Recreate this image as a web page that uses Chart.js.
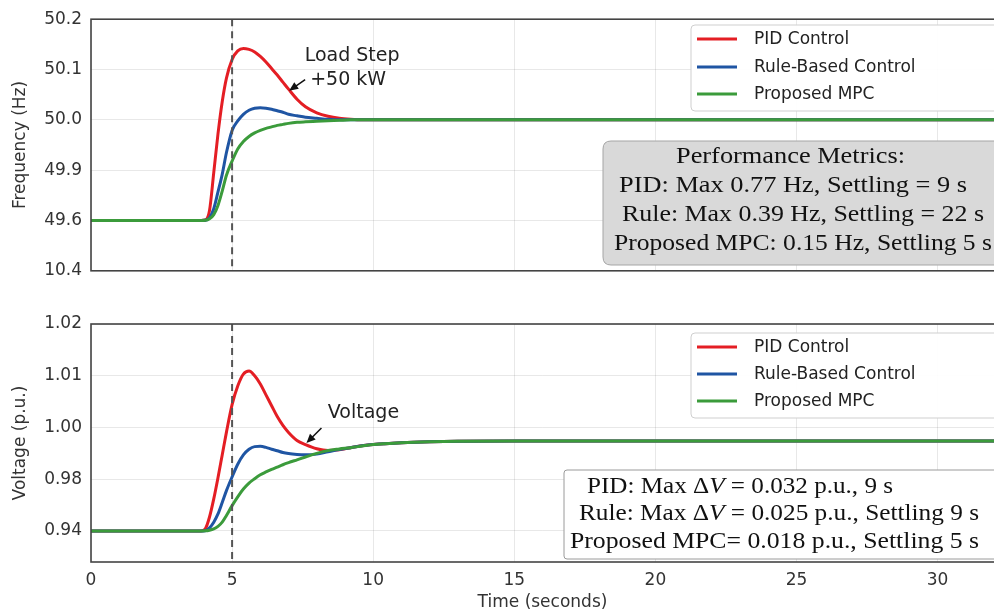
<!DOCTYPE html>
<html><head><meta charset="utf-8">
<script src="https://cdn.jsdelivr.net/npm/chart.js@4.4.0/dist/chart.umd.min.js"></script>
<style>
html,body{margin:0;padding:0;background:#fff;}
#wrap{position:relative;width:994px;height:615px;overflow:hidden;background:#fff;}
#c1{position:absolute;left:0;top:0;}
#c2{position:absolute;left:0;top:300px;}
</style></head><body>
<div id="wrap">
<canvas id="c1" width="994" height="290"></canvas>
<canvas id="c2" width="994" height="315"></canvas>
</div>
<script>
// ---------- data ----------
const TIME = [0, 3.9, 4.05, 4.2, 4.35, 4.5, 4.65, 4.8, 5.0, 5.2, 5.4, 5.6, 5.8, 6.0, 6.2, 6.4, 6.6, 6.8, 7.0, 7.3, 7.6, 8.0, 8.4, 8.8, 9.2, 9.6, 10, 11, 12, 13, 15, 20, 25, 32];
const SERIES = ['PID Control', 'Rule-Based Control', 'Proposed MPC'];

const FREQ_PID  = [49.6, 49.6, 49.603, 49.66, 49.885, 49.972, 50.036, 50.083, 50.12, 50.137, 50.142, 50.140, 50.135, 50.126, 50.115, 50.102, 50.089, 50.075, 50.061, 50.041, 50.026, 50.014, 50.007, 50.003, 50.001, 50.0, 50.0, 50.0, 50.0, 50.0, 50.0, 50.0, 50.0, 50.0];
const FREQ_RULE = [49.6, 49.6, 49.601, 49.615, 49.67, 49.77, 49.875, 49.935, 49.979, 49.998, 50.011, 50.019, 50.023, 50.024, 50.023, 50.021, 50.018, 50.015, 50.011, 50.008, 50.005, 50.003, 50.001, 50.0, 50.0, 50.0, 50.0, 50.0, 50.0, 50.0, 50.0, 50.0, 50.0, 50.0];
const FREQ_MPC  = [49.6, 49.6, 49.601, 49.61, 49.635, 49.69, 49.775, 49.87, 49.918, 49.942, 49.957, 49.967, 49.974, 49.979, 49.983, 49.986, 49.989, 49.991, 49.993, 49.995, 49.996, 49.997, 49.998, 49.999, 50.0, 50.0, 50.0, 50.0, 50.0, 50.0, 50.0, 50.0, 50.0, 50.0];

const VOLT_PID  = [0.94, 0.94, 0.9416, 0.9508, 0.9648, 0.9806, 0.9894, 0.9982, 1.0044, 1.0080, 1.0103, 1.0109, 1.0100, 1.0084, 1.0063, 1.0042, 1.0021, 1.0004, 0.9981, 0.995, 0.9934, 0.9918, 0.9911, 0.9914, 0.9922, 0.9929, 0.9934, 0.9941, 0.9945, 0.9947, 0.9948, 0.9948, 0.9948, 0.9948];
const VOLT_RULE = [0.94, 0.94, 0.9402, 0.9424, 0.9468, 0.9532, 0.962, 0.9712, 0.9809, 0.9858, 0.9894, 0.9916, 0.9926, 0.9927, 0.9923, 0.9916, 0.991, 0.9903, 0.9899, 0.9896, 0.9895, 0.9897, 0.9906, 0.9915, 0.9922, 0.9929, 0.9934, 0.9941, 0.9945, 0.9947, 0.9948, 0.9948, 0.9948, 0.9948];
const VOLT_MPC  = [0.94, 0.94, 0.9401, 0.9406, 0.9416, 0.9436, 0.9468, 0.952, 0.9596, 0.9664, 0.9724, 0.977, 0.9802, 0.9817, 0.9828, 0.9838, 0.9847, 0.9856, 0.9864, 0.9875, 0.9886, 0.99, 0.9911, 0.9917, 0.9922, 0.9928, 0.9934, 0.9941, 0.9945, 0.9947, 0.9948, 0.9948, 0.9948, 0.9948];

const FREQ_TICKS = [10.4, 49.6, 49.9, 50.0, 50.1, 50.2];
const FREQ_TICK_LABELS = ['10.4', '49.6', '49.9', '50.0', '50.1', '50.2'];
const VOLT_TICKS = [0.94, 0.98, 1.00, 1.01, 1.02];
const VOLT_TICK_LABELS = ['0.94', '0.98', '1.00', '1.01', '1.02'];
const TIME_TICKS = [0, 5, 10, 15, 20, 25, 30];
const LOAD_STEP_TIME = 5;

const COLORS = ['#e41e24', '#1f55a3', '#3b9b3b'];
const SANS = '"DejaVu Sans", sans-serif';
const SERIF = '"Liberation Serif", "Times New Roman", serif';

// piecewise mapping of a value onto the evenly spaced tick positions
function toIdx(v, ticks) {
  let i = 0;
  while (i < ticks.length - 2 && v > ticks[i + 1]) i++;
  return i + (v - ticks[i]) / (ticks[i + 1] - ticks[i]);
}
function mkData(vals, ticks) { return TIME.map((t, i) => ({x: t, y: toIdx(vals[i], ticks)})); }

function datasets(arrs, ticks) {
  return arrs.map((a, k) => ({
    label: SERIES[k], data: mkData(a, ticks), borderColor: COLORS[k], backgroundColor: COLORS[k],
    borderWidth: 3, pointRadius: 0, cubicInterpolationMode: 'monotone', fill: false, order: 2 - k
  }));
}

function rr(ctx, x, y, w, h, r) {
  ctx.beginPath();
  ctx.moveTo(x + r, y); ctx.lineTo(x + w - r, y); ctx.quadraticCurveTo(x + w, y, x + w, y + r);
  ctx.lineTo(x + w, y + h - r); ctx.quadraticCurveTo(x + w, y + h, x + w - r, y + h);
  ctx.lineTo(x + r, y + h); ctx.quadraticCurveTo(x, y + h, x, y + h - r);
  ctx.lineTo(x, y + r); ctx.quadraticCurveTo(x, y, x + r, y); ctx.closePath();
}

function drawRich(ctx, parts, x, y, width, size) {
  let total = 0;
  parts.forEach(p => { ctx.font = (p[1] ? 'italic ' : '') + size + 'px ' + SERIF; total += ctx.measureText(p[0]).width; });
  const f = width / total;
  ctx.save(); ctx.translate(x, y); ctx.scale(f, 1);
  ctx.fillStyle = '#111'; ctx.textBaseline = 'middle'; ctx.textAlign = 'left';
  let cx = 0;
  parts.forEach(p => { ctx.font = (p[1] ? 'italic ' : '') + size + 'px ' + SERIF; ctx.fillText(p[0], cx, 0); cx += ctx.measureText(p[0]).width; });
  ctx.restore();
}

function drawLegend(chart, x, y, w, h, rows) {
  const ctx = chart.ctx;
  ctx.save();
  rr(ctx, x, y, w, h, 4);
  ctx.fillStyle = 'rgba(255,255,255,0.92)'; ctx.fill();
  ctx.strokeStyle = '#cfcfcf'; ctx.lineWidth = 1; ctx.stroke();
  chart.data.datasets.forEach((ds, k) => {
    ctx.strokeStyle = ds.borderColor; ctx.lineWidth = 3;
    ctx.beginPath(); ctx.moveTo(x + 6, rows[k]); ctx.lineTo(x + 46, rows[k]); ctx.stroke();
    ctx.fillStyle = '#222'; ctx.font = '17px ' + SANS; ctx.textBaseline = 'middle';
    ctx.fillText(ds.label, x + 63, rows[k] + 1);
  });
  ctx.restore();
}

function arrow(ctx, x1, y1, x2, y2) {
  ctx.save();
  ctx.strokeStyle = '#111'; ctx.fillStyle = '#111'; ctx.lineWidth = 1.5;
  const a = Math.atan2(y2 - y1, x2 - x1);
  ctx.beginPath(); ctx.moveTo(x1, y1); ctx.lineTo(x2 - 6 * Math.cos(a), y2 - 6 * Math.sin(a)); ctx.stroke();
  ctx.beginPath(); ctx.moveTo(x2, y2);
  ctx.lineTo(x2 - 9 * Math.cos(a) + 4 * Math.sin(a), y2 - 9 * Math.sin(a) - 4 * Math.cos(a));
  ctx.lineTo(x2 - 9 * Math.cos(a) - 4 * Math.sin(a), y2 - 9 * Math.sin(a) + 4 * Math.cos(a));
  ctx.closePath(); ctx.fill();
  ctx.restore();
}

const framePlugin = {
  id: 'frame',
  afterDatasetsDraw(chart) {
    const {ctx, chartArea: a, scales: {x}} = chart;
    ctx.save();
    // load step marker
    const px = x.getPixelForValue(LOAD_STEP_TIME);
    ctx.strokeStyle = '#555'; ctx.lineWidth = 2; ctx.setLineDash([7, 5]);
    ctx.beginPath(); ctx.moveTo(px, a.top); ctx.lineTo(px, a.bottom); ctx.stroke();
    ctx.setLineDash([]);
    ctx.strokeStyle = '#444'; ctx.lineWidth = 1.6;
    ctx.strokeRect(a.left, a.top, a.right - a.left + 2, a.bottom - a.top);
    ctx.restore();
  }
};

function axisCommon() {
  return {
    x: {
      type: 'linear', min: 0, max: 32,
      afterBuildTicks: s => { s.ticks = TIME_TICKS.map(v => ({value: v})); },
      grid: {color: 'rgba(0,0,0,0.09)', lineWidth: 1, drawTicks: false},
      border: {display: false},
    }
  };
}

// ---------- top chart: frequency ----------
const topOpts = axisCommon();
topOpts.x.ticks = {display: false};
topOpts.x.afterFit = s => { s.height = 0; };
topOpts.y = {
  type: 'linear', min: 0, max: 5,
  afterBuildTicks: s => { s.ticks = FREQ_TICKS.map((v, i) => ({value: i})); },
  ticks: {callback: v => FREQ_TICK_LABELS[Math.round(v)], font: {family: SANS, size: 17}, color: '#333', padding: 9},
  grid: {color: 'rgba(0,0,0,0.09)', lineWidth: 1, drawTicks: false},
  border: {display: false},
  title: {display: true, text: 'Frequency (Hz)', font: {family: SANS, size: 17}, color: '#333', padding: {top: 10, bottom: 0}},
  afterFit: s => { s.width = 91; }
};

new Chart(document.getElementById('c1'), {
  type: 'line',
  data: {datasets: datasets([FREQ_PID, FREQ_RULE, FREQ_MPC], FREQ_TICKS)},
  options: {
    responsive: false, devicePixelRatio: 1, animation: false,
    layout: {padding: {top: 16, bottom: 15, left: 0, right: 0}},
    plugins: {legend: {display: false}, tooltip: {enabled: false}},
    scales: topOpts
  },
  plugins: [framePlugin, {
    id: 'topDeco',
    afterDraw(chart) {
      const ctx = chart.ctx, {x, y} = chart.scales;
      drawLegend(chart, 691, 25, 310, 86, [39, 67, 94]);
      // metrics box
      ctx.save();
      rr(ctx, 603, 141, 400, 124, 8);
      ctx.fillStyle = '#d9d9d9'; ctx.fill(); ctx.strokeStyle = '#a5a5a5'; ctx.lineWidth = 1; ctx.stroke();
      ctx.restore();
      drawRich(ctx, [['Performance Metrics:', 0]], 676, 157, 229, 24);
      drawRich(ctx, [['PID: Max 0.77 Hz, Settling = 9 s', 0]], 619, 186, 348, 24);
      drawRich(ctx, [['Rule: Max 0.39 Hz, Settling = 22 s', 0]], 622, 215, 362, 24);
      drawRich(ctx, [['Proposed MPC: 0.15 Hz, Settling 5 s', 0]], 614, 244, 378, 24);
      // load step annotation
      const tx = x.getPixelForValue(6.95), ty = y.getPixelForValue(toIdx(50.056, FREQ_TICKS));
      arrow(ctx, tx + 18, ty - 12, tx + 2, ty - 1);
      ctx.save();
      ctx.fillStyle = '#222'; ctx.font = '19px ' + SANS; ctx.textBaseline = 'middle'; ctx.textAlign = 'center';
      ctx.fillText('Load Step', tx + 65, ty - 36);
      ctx.fillText('+50 kW', tx + 61, ty - 12);
      ctx.restore();
    }
  }]
});

// ---------- bottom chart: voltage ----------
const botOpts = axisCommon();
botOpts.x.ticks = {font: {family: SANS, size: 17}, color: '#333', padding: 8};
botOpts.x.title = {display: true, text: 'Time (seconds)', font: {family: SANS, size: 17}, color: '#333', padding: {top: 0, bottom: 2}};
botOpts.x.afterFit = s => { s.height = 53; };
botOpts.y = {
  type: 'linear', min: -0.6, max: 4,
  afterBuildTicks: s => { s.ticks = VOLT_TICKS.map((v, i) => ({value: i})); },
  ticks: {callback: v => VOLT_TICK_LABELS[Math.round(v)], font: {family: SANS, size: 17}, color: '#333', padding: 9},
  grid: {color: 'rgba(0,0,0,0.09)', lineWidth: 1, drawTicks: false},
  border: {display: false},
  title: {display: true, text: 'Voltage (p.u.)', font: {family: SANS, size: 17}, color: '#333', padding: {top: 10, bottom: 0}},
  afterFit: s => { s.width = 91; }
};

new Chart(document.getElementById('c2'), {
  type: 'line',
  data: {datasets: datasets([VOLT_PID, VOLT_RULE, VOLT_MPC], VOLT_TICKS)},
  options: {
    responsive: false, devicePixelRatio: 1, animation: false,
    layout: {padding: {top: 24, bottom: 0, left: 0, right: 0}},
    plugins: {legend: {display: false}, tooltip: {enabled: false}},
    scales: botOpts
  },
  plugins: [framePlugin, {
    id: 'botDeco',
    afterDraw(chart) {
      const ctx = chart.ctx, {x, y} = chart.scales;
      const o = -300; // page -> canvas offset
      drawLegend(chart, 691, 333 + o, 310, 85, [347 + o, 374 + o, 401 + o]);
      ctx.save();
      rr(ctx, 564, 470 + o, 440, 89, 3);
      ctx.fillStyle = '#ffffff'; ctx.fill(); ctx.strokeStyle = '#9a9a9a'; ctx.lineWidth = 1; ctx.stroke();
      ctx.restore();
      drawRich(ctx, [['PID: Max ', 0], ['\u0394', 0], ['V', 1], [' = 0.032 p.u., 9 s', 0]], 587, 487 + o, 306, 24);
      drawRich(ctx, [['Rule: Max ', 0], ['\u0394', 0], ['V', 1], [' = 0.025 p.u., Settling 9 s', 0]], 579, 514 + o, 400, 24);
      drawRich(ctx, [['Proposed MPC= 0.018 p.u., Settling 5 s', 0]], 570, 542 + o, 409, 24);
      // voltage annotation
      const tx = x.getPixelForValue(7.6), ty = y.getPixelForValue(toIdx(0.9936, VOLT_TICKS));
      arrow(ctx, tx + 16, ty - 16, tx + 1, ty - 1);
      ctx.save();
      ctx.fillStyle = '#222'; ctx.font = '19px ' + SANS; ctx.textBaseline = 'middle'; ctx.textAlign = 'center';
      ctx.fillText('Voltage', tx + 58, ty - 31);
      ctx.restore();
    }
  }]
});
</script>
</body></html>
